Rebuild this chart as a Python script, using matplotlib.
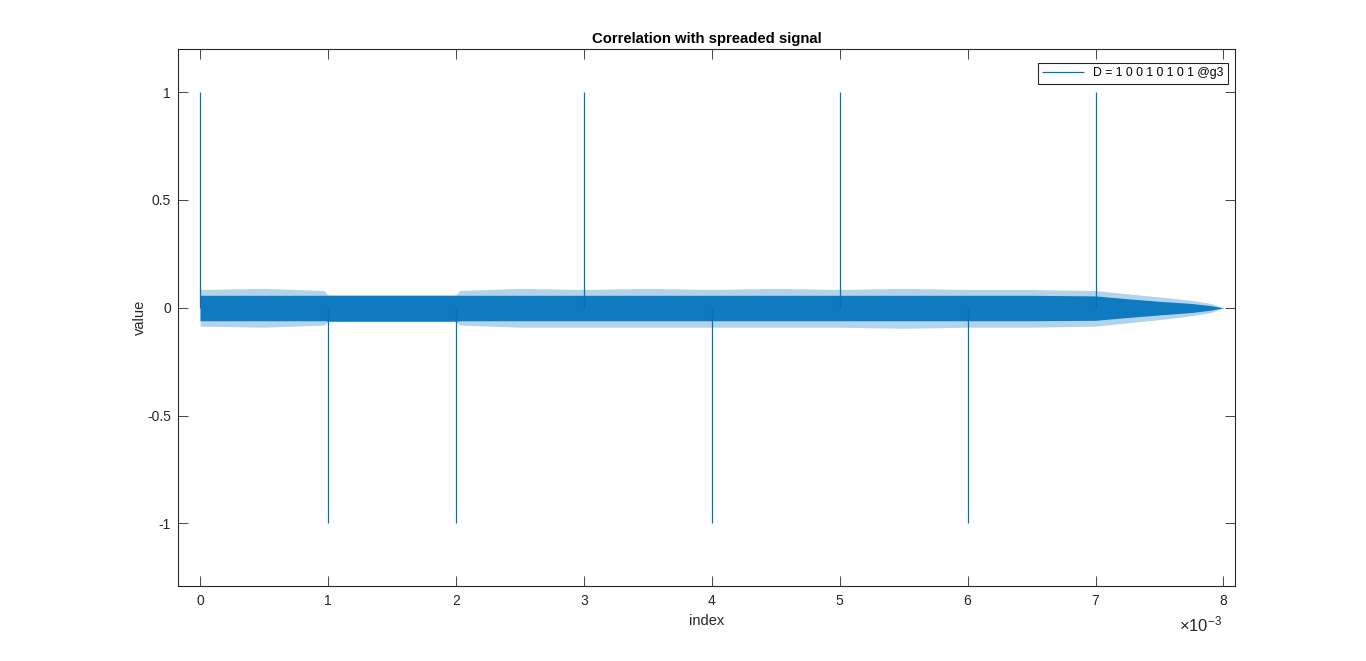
import matplotlib
matplotlib.use("Agg")
import matplotlib.pyplot as plt

plt.rcParams['font.family'] = ['Liberation Sans', 'DejaVu Sans']
plt.rcParams['mathtext.fontset'] = 'custom'
plt.rcParams['mathtext.rm'] = 'Liberation Sans'
plt.rcParams['mathtext.it'] = 'Liberation Sans'

# ---- data (x in units of 1e-3) ----
peak_idx = [0, 1, 2, 3, 4, 5, 6, 7]
peak_val = [1, -1, -1, 1, -1, 1, -1, 1]

# noise band envelope
env_x = [0.0, 0.5, 0.97, 1.0, 1.5, 2.0, 2.03, 2.5, 3.0, 3.5, 4.0, 4.5, 5.0,
         5.5, 6.0, 6.5, 7.0, 7.25, 7.5, 7.75, 7.9, 8.0]
core_hi = [0.058, 0.058, 0.058, 0.058, 0.058, 0.058, 0.058, 0.058, 0.058, 0.058, 0.058,
           0.058, 0.058, 0.058, 0.058, 0.058, 0.055, 0.042, 0.03, 0.02, 0.01, 0.0]
core_lo = [-0.06, -0.06, -0.06, -0.062, -0.062, -0.062, -0.06, -0.06, -0.06,
           -0.06, -0.06, -0.06, -0.06, -0.06, -0.06, -0.06, -0.058, -0.045,
           -0.033, -0.022, -0.011, 0.0]
spike_hi = [0.085, 0.09, 0.08, 0.06, 0.06, 0.06, 0.08, 0.09, 0.085, 0.09, 0.085,
            0.09, 0.085, 0.09, 0.085, 0.085, 0.08, 0.065, 0.05, 0.035, 0.02, 0.0]
spike_lo = [-0.085, -0.09, -0.08, -0.064, -0.064, -0.064, -0.08, -0.09, -0.09,
            -0.09, -0.09, -0.09, -0.09, -0.095, -0.09, -0.09, -0.085, -0.07,
            -0.055, -0.037, -0.022, 0.0]

legend_label = 'D = 1 0 0 1 0 1 0 1 @g3'
blue = '#0072BD'
axc = '#262626'

fig = plt.figure(figsize=(13.66, 6.61), dpi=100)
ax = fig.add_axes([178/1366, 1 - 586/661, (1235-178)/1366, (586-49)/661])

ax.fill_between(env_x, spike_lo, spike_hi, color=blue, alpha=0.3, lw=0)
ax.fill_between(env_x, core_lo, core_hi, color=blue, alpha=0.92, lw=0)
ax.vlines(peak_idx, 0, peak_val, color=blue, lw=0.9, label=legend_label)

ax.set_xlim(-0.172, 8.09)
ax.set_ylim(-1.29, 1.2)
ax.set_xticks(range(0, 9))
ax.set_yticks([-1, -0.5, 0, 0.5, 1])
ax.set_yticklabels(['-1', '-0.5', '0', '0.5', '1'])

ax.tick_params(direction='in', length=7, width=0.6, top=True, right=True,
               colors=axc, labelsize=10)
ax.tick_params(axis='x', pad=6)
ax.tick_params(axis='y', pad=5)
for s in ax.spines.values():
    s.set_color(axc)
    s.set_linewidth(0.8)

ax.set_title('Correlation with spreaded signal', fontsize=10.7, fontweight='bold',
             color='black', pad=4)
ax.set_xlabel('index', fontsize=10.5, color=axc, labelpad=4)
ax.set_ylabel('value', fontsize=10.5, color=axc, labelpad=0)
ax.text(0.9877, -0.054, r'$\times10^{-3}$', transform=ax.transAxes, ha='right',
        va='top', fontsize=12, color=axc)

leg = ax.legend(loc='upper right', bbox_to_anchor=(0.9934, 0.974), borderaxespad=0,
                fancybox=False, edgecolor=axc, framealpha=1, fontsize=8.8,
                handlelength=3.4, borderpad=0.35)
leg.get_frame().set_linewidth(0.8)

fig.savefig('out.png', dpi=100)
